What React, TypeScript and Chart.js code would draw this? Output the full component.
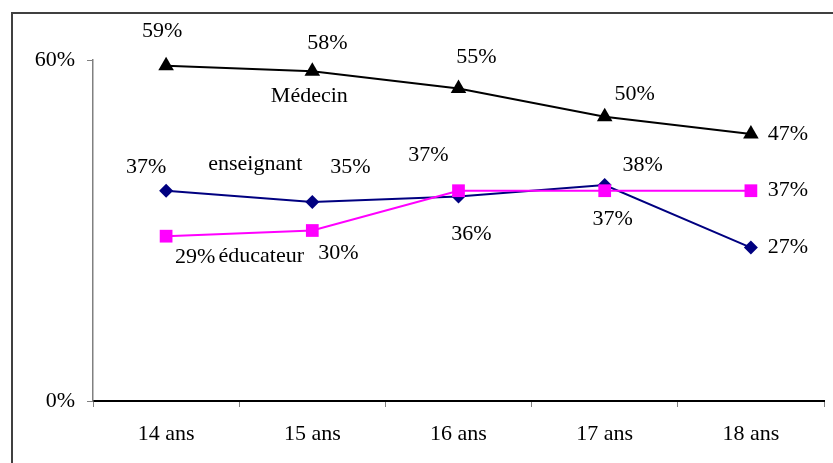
import React, { useEffect, useRef } from "react";
import { Chart, registerables } from "chart.js";

Chart.register(...registerables);

const categories = ["14 ans", "15 ans", "16 ans", "17 ans", "18 ans"];
const medecin = [59, 58, 55, 50, 47];
const enseignant = [37, 35, 36, 38, 27];
const educateur = [29, 30, 37, 37, 37];
const yTicks = [0, 60];

// label offsets (dx, dy) relative to each point
const medecinOffsets = [[-4, -34], [15, -28], [18, -31], [30, -23], [37, 0]];
const enseignantOffsets = [[-20, -23], [38, -35], [13, 38], [38, -20], [37, 0]];
const educateurOffsets = [[29, 21], [26, 23], [-30, -35], [8, 29], [37, 0]];
// series names: [text, dataset index, point index, dx, dy]
const seriesNames: [string, number, number, number, number][] = [
  ["Médecin", 0, 1, -3, 25],
  ["éducateur", 1, 1, -51, 26],
  ["enseignant", 2, 1, -57, -38],
];

const FONT = "'Liberation Serif', 'Times New Roman', serif";

const labelsPlugin = {
  id: "pointLabels",
  beforeDraw(chart: any) {
    const ctx = chart.ctx;
    ctx.save();
    ctx.strokeStyle = "#404040";
    ctx.lineWidth = 2;
    ctx.beginPath();
    ctx.moveTo(12, 480);
    ctx.lineTo(12, 13);
    ctx.lineTo(850, 13);
    ctx.stroke();
    ctx.restore();
  },
  afterDatasetsDraw(chart: any) {
    const ctx = chart.ctx;
    ctx.save();
    ctx.font = `22px ${FONT}`;
    ctx.fillStyle = "#000";
    ctx.textAlign = "center";
    ctx.textBaseline = "middle";
    const offs = [medecinOffsets, educateurOffsets, enseignantOffsets];
    chart.data.datasets.forEach((ds: any, i: number) => {
      const meta = chart.getDatasetMeta(i);
      meta.data.forEach((pt: any, j: number) => {
        const [dx, dy] = offs[i][j];
        ctx.fillText(`${ds.data[j]}%`, pt.x + dx, pt.y + dy);
      });
    });
    seriesNames.forEach(([txt, di, pi, dx, dy]) => {
      const pt = chart.getDatasetMeta(di).data[pi];
      ctx.fillText(txt, pt.x + dx, pt.y + dy);
    });
    ctx.restore();
  },
};

export default function App() {
  const ref = useRef<HTMLCanvasElement>(null);
  useEffect(() => {
    if (!ref.current) return;
    const chart = new Chart(ref.current, {
      type: "line",
      data: {
        labels: categories,
        datasets: [
          {
            label: "Médecin",
            data: medecin,
            borderColor: "#000000",
            backgroundColor: "#000000",
            borderWidth: 2,
            pointStyle: "triangle",
            pointRadius: 9,
            pointBorderWidth: 0,
            clip: false,
          },
          {
            label: "éducateur",
            data: educateur,
            borderColor: "#FF00FF",
            backgroundColor: "#FF00FF",
            borderWidth: 2,
            pointStyle: "rect",
            pointRadius: 9,
            pointBorderWidth: 0,
            clip: false,
          },
          {
            label: "enseignant",
            data: enseignant,
            borderColor: "#000080",
            backgroundColor: "#000080",
            borderWidth: 2,
            pointStyle: "rectRot",
            pointRadius: 7,
            pointBorderWidth: 0,
            clip: false,
          },
        ],
      },
      options: {
        animation: false,
        responsive: false,
        maintainAspectRatio: false,
        layout: { padding: { left: 0, top: 60, right: 9, bottom: 0 } },
        plugins: { legend: { display: false }, tooltip: { enabled: false } },
        scales: {
          x: {
            type: "category",
            offset: true,
            grid: {
              offset: true,
              drawOnChartArea: false,
              drawTicks: true,
              tickLength: 6,
              color: "#808080",
            },
            border: { color: "#000000", width: 2 },
            ticks: {
              font: { family: FONT, size: 22 },
              color: "#000",
              padding: 14,
              maxRotation: 0,
            },
            afterFit: (s: any) => {
              s.height = 62;
            },
          },
          y: {
            min: 0,
            max: 60,
            afterBuildTicks: (s: any) => {
              s.ticks = yTicks.map((v) => ({ value: v }));
            },
            grid: {
              drawOnChartArea: false,
              drawTicks: true,
              tickLength: 6,
              color: "#808080",
            },
            border: { color: "#808080", width: 1.5 },
            ticks: {
              font: { family: FONT, size: 22 },
              color: "#000",
              padding: 12,
              callback: (v: any) => `${v}%`,
            },
            afterFit: (s: any) => {
              s.width = 93;
            },
          },
        },
      },
      plugins: [labelsPlugin],
    });
    return () => chart.destroy();
  }, []);
  return (
    <div style={{ position: "fixed", left: 0, top: 0, width: 833, height: 463, background: "#fff" }}>
      <canvas ref={ref} width={833} height={463} style={{ width: 833, height: 463, display: "block" }} />
    </div>
  );
}
